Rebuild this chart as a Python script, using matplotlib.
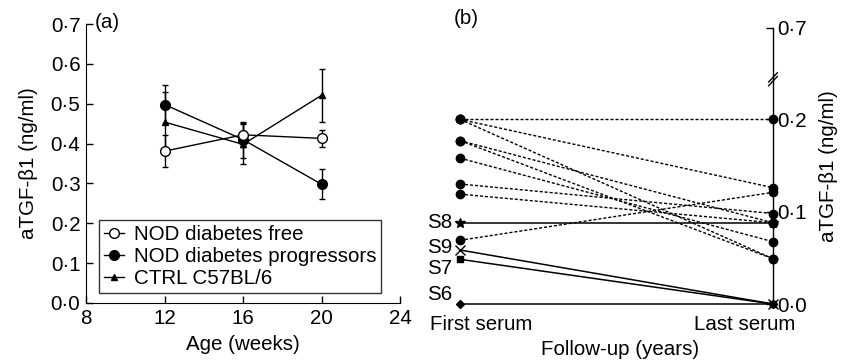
import matplotlib
matplotlib.use('Agg')
import matplotlib.pyplot as plt
import matplotlib.transforms as mtransforms
from matplotlib.ticker import FuncFormatter

plt.rcParams['font.family'] = ['Liberation Sans', 'DejaVu Sans']
plt.rcParams['font.size'] = 14.8

# (a) mean aTGF-b1 by age
weeks = [12, 16, 20]
free_mean = [0.381, 0.422, 0.413]
free_err = [0.040, 0.030, 0.021]
prog_mean = [0.498, 0.410, 0.298]
prog_err = [0.050, 0.045, 0.038]
ctrl_mean = [0.454, 0.398, 0.521]
ctrl_err = [0.075, 0.050, 0.066]

# (b) first vs last serum, dotted = progressors
first_dotted = [0.200, 0.200, 0.200, 0.177, 0.177, 0.158, 0.130, 0.119, 0.069]
last_dotted = [0.200, 0.126, 0.049, 0.088, 0.049, 0.0675, 0.098, 0.088, 0.121]
solid_names = ['S8', 'S9', 'S7', 'S6']
solid_first = [0.088, 0.0585, 0.0484, 0.0]
solid_last = [0.088, 0.0, 0.0, 0.0]
solid_markers = ['*', 'x', 's', 'D']
label_y = [0.088, 0.061, 0.038, 0.010]


def dot_fmt(v, pos):
    return f'{v:.1f}'.replace('.', '\u00b7')


fig = plt.figure(figsize=(8.5, 3.62), dpi=100)

# ---------------- panel (a)
ax1 = fig.add_axes([86 / 850, 59 / 362, 314 / 850, 279 / 362])
for m, e in [(free_mean, free_err), (prog_mean, prog_err), (ctrl_mean, ctrl_err)]:
    ax1.errorbar(weeks, m, yerr=e, fmt='none', ecolor='black', elinewidth=1,
                 capsize=2.5, capthick=1, zorder=2)
ax1.plot(weeks, prog_mean, '-o', color='black', mfc='black', ms=7, lw=1,
         label='NOD diabetes progressors', zorder=3)
ax1.plot(weeks, ctrl_mean, '-^', color='black', mfc='black', ms=5, lw=1,
         label='CTRL C57BL/6', zorder=3)
ax1.plot(weeks, free_mean, '-o', color='black', mfc='white', ms=7, lw=1,
         label='NOD diabetes free', zorder=4)

h, l = ax1.get_legend_handles_labels()
order = [2, 0, 1]
leg = ax1.legend([h[i] for i in order], [l[i] for i in order], loc='lower left',
                 bbox_to_anchor=(0.04, 0.035), frameon=True, fancybox=False,
                 edgecolor='black', handlelength=1.0, handletextpad=0.45,
                 labelspacing=0.15, borderpad=0.25, borderaxespad=0)
leg.get_frame().set_linewidth(1)

ax1.set_xlim(8, 24)
ax1.set_ylim(0, 0.7)
ax1.set_xticks([8, 12, 16, 20, 24])
ax1.set_yticks([0, 0.1, 0.2, 0.3, 0.4, 0.5, 0.6, 0.7])
ax1.yaxis.set_major_formatter(FuncFormatter(dot_fmt))
ax1.tick_params(direction='in', length=5, width=1, pad=4)
ax1.spines['top'].set_visible(False)
ax1.spines['right'].set_visible(False)
ax1.set_xlabel('Age (weeks)', labelpad=5)
ax1.set_ylabel('aTGF-\u03b21 (ng/ml)', labelpad=9)
ax1.text(0.067, 1.005, '(a)', transform=ax1.transAxes, ha='center', va='center')

# ---------------- panel (b)
ax2 = fig.add_axes([440 / 850, 58 / 362, 333 / 850, 276 / 362])
for f, la in zip(first_dotted, last_dotted):
    ax2.plot([0, 1], [f, la], color='black', lw=1, ls=(0, (2.2, 1.4)),
             marker='o', ms=6, mfc='black', mec='black', clip_on=False, zorder=2)
for name, f, la, mk, ty in zip(solid_names, solid_first, solid_last, solid_markers, label_y):
    ms = 7
    if mk == 's':
        ms = 5
    if mk == 'D':
        ms = 4
    ax2.plot([0, 1], [f, la], color='black', lw=1.1, marker=mk, ms=ms,
             mfc='black', mec='black', mew=1, clip_on=False, zorder=3)
    ax2.text(-0.025, ty, name, ha='right', va='center')

ax2.set_xlim(-0.0639, 1.0)
ax2.set_ylim(0, 0.299)
ax2.set_yticks([0, 0.1, 0.2, 0.299])
ax2.set_yticklabels(['0\u00b70', '0\u00b71', '0\u00b72', '0\u00b77'])
ax2.yaxis.tick_right()
ax2.yaxis.set_label_position('right')
ax2.tick_params(axis='y', direction='in', length=5, width=1, pad=3)
ax2.set_xticks([0, 1])
ax2.set_xticklabels(['First serum', 'Last serum'])
ax2.tick_params(axis='x', length=0, pad=8)
for lab, dx in zip(ax2.get_xticklabels(), [21, -28]):
    lab.set_transform(lab.get_transform() +
                      mtransforms.ScaledTranslation(dx / 100, 0, fig.dpi_scale_trans))
for s in ['top', 'left', 'bottom']:
    ax2.spines[s].set_visible(False)
ax2.spines['right'].set_linewidth(1)
ax2.set_ylabel('aTGF-\u03b21 (ng/ml)', rotation=90, labelpad=9)
ax2.set_xlabel('Follow-up (years)')
ax2.xaxis.set_label_coords(0.54, -0.13)
ax2.text(0.08, 1.035, '(b)', transform=ax2.transAxes, ha='center', va='center')

# axis break marks
bt = mtransforms.blended_transform_factory(ax2.transAxes, ax2.transData)
for off in [0.0, 0.004]:
    ax2.plot([1 - 0.013, 1 + 0.013], [0.2365 + off, 0.2465 + off], color='black',
             lw=1, transform=bt, clip_on=False)

fig.savefig('out.png', dpi=100)
